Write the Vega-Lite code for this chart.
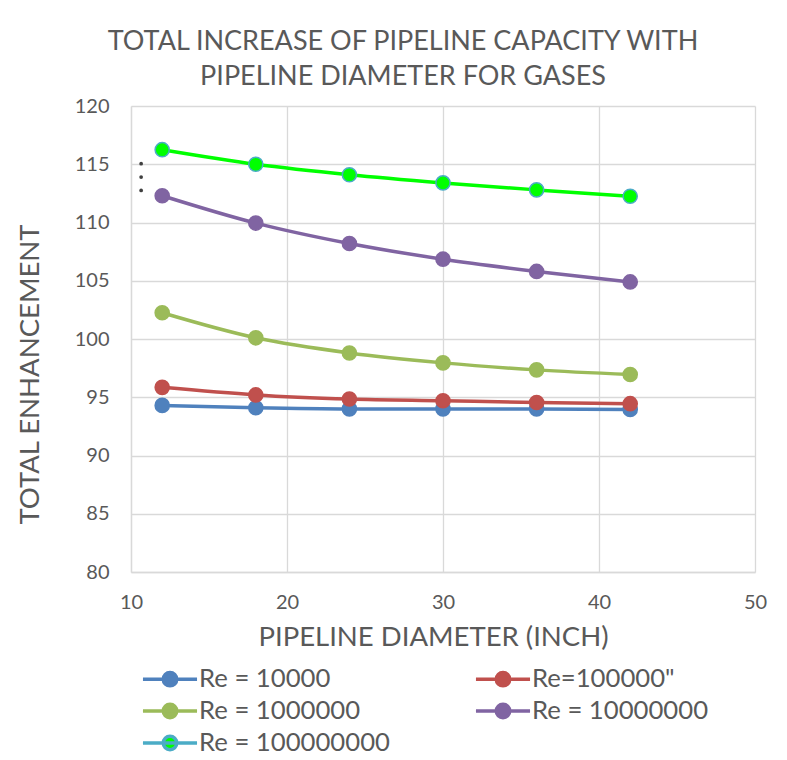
{
  "$schema": "https://vega.github.io/schema/vega-lite/v6.json",
  "autosize": {"type": "none"},
  "padding": {"left": 131, "top": 106, "right": 32, "bottom": 188},
  "width": 624,
  "height": 466,
  "background": "white",
  "title": {
    "text": ["TOTAL INCREASE OF PIPELINE CAPACITY WITH", "PIPELINE DIAMETER FOR GASES"],
    "font": "Lato",
    "fontSize": 27,
    "fontWeight": "normal",
    "color": "#595959",
    "anchor": "middle",
    "dx": -40,
    "lineHeight": 35,
    "offset": 5
  },
  "config": {
    "view": {"stroke": null},
    "axis": {
      "labelFont": "Lato",
      "labelFontSize": 20,
      "labelColor": "#595959",
      "titleFont": "Lato",
      "titleFontSize": 27.5,
      "titleFontWeight": "normal",
      "titleColor": "#595959",
      "gridColor": "#D9D9D9",
      "gridWidth": 1.3,
      "domainColor": "#D9D9D9",
      "domainWidth": 1.3,
      "ticks": false,
      "labelFlush": false
    }
  },
  "datasets": {
    "series": [
      {"d": 12, "v": 94.3, "s": "Re = 10000"},
      {"d": 18, "v": 94.1, "s": "Re = 10000"},
      {"d": 24, "v": 94.0, "s": "Re = 10000"},
      {"d": 30, "v": 94.0, "s": "Re = 10000"},
      {"d": 36, "v": 94.0, "s": "Re = 10000"},
      {"d": 42, "v": 93.95, "s": "Re = 10000"},
      {"d": 12, "v": 95.85, "s": "Re=100000\""},
      {"d": 18, "v": 95.2, "s": "Re=100000\""},
      {"d": 24, "v": 94.85, "s": "Re=100000\""},
      {"d": 30, "v": 94.7, "s": "Re=100000\""},
      {"d": 36, "v": 94.55, "s": "Re=100000\""},
      {"d": 42, "v": 94.45, "s": "Re=100000\""},
      {"d": 12, "v": 102.25, "s": "Re = 1000000"},
      {"d": 18, "v": 100.1, "s": "Re = 1000000"},
      {"d": 24, "v": 98.8, "s": "Re = 1000000"},
      {"d": 30, "v": 97.95, "s": "Re = 1000000"},
      {"d": 36, "v": 97.35, "s": "Re = 1000000"},
      {"d": 42, "v": 96.95, "s": "Re = 1000000"},
      {"d": 12, "v": 112.3, "s": "Re = 10000000"},
      {"d": 18, "v": 109.95, "s": "Re = 10000000"},
      {"d": 24, "v": 108.2, "s": "Re = 10000000"},
      {"d": 30, "v": 106.85, "s": "Re = 10000000"},
      {"d": 36, "v": 105.8, "s": "Re = 10000000"},
      {"d": 42, "v": 104.9, "s": "Re = 10000000"},
      {"d": 12, "v": 116.25, "s": "Re = 100000000"},
      {"d": 18, "v": 115.0, "s": "Re = 100000000"},
      {"d": 24, "v": 114.1, "s": "Re = 100000000"},
      {"d": 30, "v": 113.4, "s": "Re = 100000000"},
      {"d": 36, "v": 112.8, "s": "Re = 100000000"},
      {"d": 42, "v": 112.25, "s": "Re = 100000000"}
    ],
    "dots": [
      {"d": 10.65, "v": 115.05},
      {"d": 10.65, "v": 113.9},
      {"d": 10.65, "v": 112.75}
    ]
  },
  "encoding": {
    "x": {
      "field": "d", "type": "quantitative",
      "scale": {"domain": [10, 50]},
      "axis": {"values": [10, 20, 30, 40, 50], "title": "PIPELINE DIAMETER (INCH)", "labelPadding": 20, "titlePadding": 11, "titleX": 302}
    },
    "y": {
      "field": "v", "type": "quantitative",
      "scale": {"domain": [80, 120]},
      "axis": {"values": [80, 85, 90, 95, 100, 105, 110, 115, 120], "title": "TOTAL ENHANCEMENT", "labelPadding": 22, "titleX": -101, "titleY": 268, "titleAngle": -90, "titleAlign": "center", "titleBaseline": "middle"}
    }
  },
  "layer": [
    {
      "data": {"name": "series"},
      "mark": {"type": "line", "interpolate": "monotone", "strokeWidth": 3.5},
      "encoding": {
        "color": {
          "field": "s", "type": "nominal",
          "scale": {"domain": ["Re = 10000", "Re=100000\"", "Re = 1000000", "Re = 10000000", "Re = 100000000"], "range": ["#4F81BD", "#C0504D", "#9BBB59", "#8064A2", "#00FF00"]},
          "legend": null
        }
      }
    },
    {
      "data": {"name": "series"},
      "mark": {"type": "point", "filled": true, "size": 200, "strokeWidth": 1.5, "opacity": 1},
      "encoding": {
        "stroke": {
          "field": "s", "type": "nominal",
          "scale": {"domain": ["Re = 10000", "Re=100000\"", "Re = 1000000", "Re = 10000000", "Re = 100000000"], "range": ["#4F81BD", "#C0504D", "#9BBB59", "#8064A2", "#4BACC6"]},
          "legend": {
            "orient": "none", "direction": "horizontal", "legendX": 21, "legendY": 555, "columns": 2, "columnPadding": 78, "rowPadding": 0,
            "title": null,
            "symbolType": "M-1.69,0H1.69M0.42,0A0.42,0.42 0 1,1 -0.42,0A0.42,0.42 0 1,1 0.42,0",
            "symbolSize": 1024, "symbolStrokeWidth": 3.5, "symbolOpacity": 1,
            "labelFont": "Lato", "labelFontSize": 25.7, "labelColor": "#595959", "labelOffset": 11, "labelLimit": 400
          }
        },
        "fill": {
          "field": "s", "type": "nominal",
          "scale": {"domain": ["Re = 10000", "Re=100000\"", "Re = 1000000", "Re = 10000000", "Re = 100000000"], "range": ["#4F81BD", "#C0504D", "#9BBB59", "#8064A2", "#00FF00"]},
          "legend": {
            "orient": "none", "direction": "horizontal", "legendX": 21, "legendY": 555, "columns": 2, "columnPadding": 78, "rowPadding": 0,
            "title": null,
            "symbolType": "M-1.69,0H1.69M0.42,0A0.42,0.42 0 1,1 -0.42,0A0.42,0.42 0 1,1 0.42,0",
            "symbolSize": 1024, "symbolStrokeWidth": 3.5, "symbolOpacity": 1,
            "labelFont": "Lato", "labelFontSize": 25.7, "labelColor": "#595959", "labelOffset": 11, "labelLimit": 400
          }
        }
      }
    },
    {
      "data": {"name": "dots"},
      "mark": {"type": "circle", "size": 14, "color": "#404040", "opacity": 1},
      "encoding": {}
    }
  ],
  "resolve": {"scale": {"color": "independent", "stroke": "independent", "fill": "independent"}}
}
